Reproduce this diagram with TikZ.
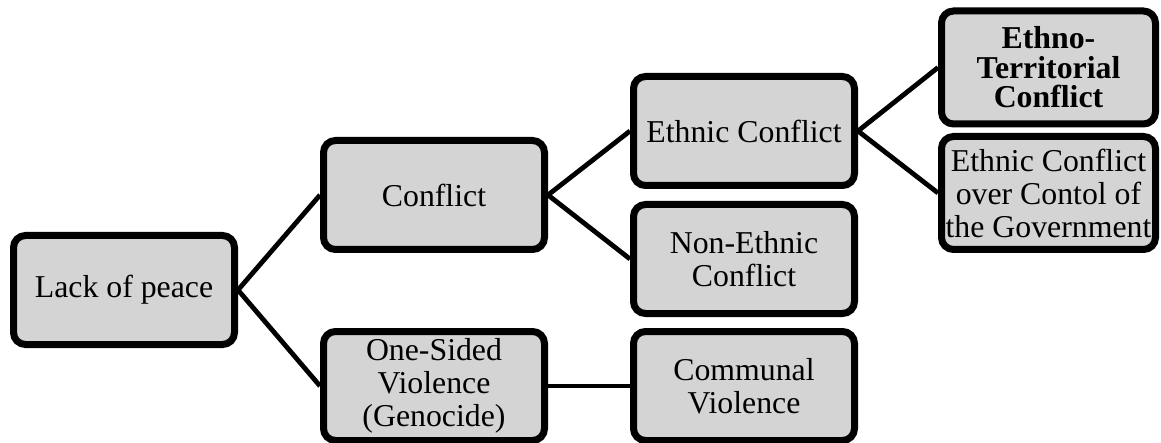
\documentclass[tikz,border=0pt]{standalone}
\usepackage{fontspec}
\setmainfont{Liberation Serif}
\usetikzlibrary{shadows}

\definecolor{boxgray}{HTML}{D4D4D4}
\newcommand{\boxfont}{\fontsize{15.9}{16.5}\selectfont}
\newcommand{\boldboxfont}{\fontsize{15.9}{14.8}\selectfont\bfseries}

\tikzset{
  box/.style={draw=black, line width=3.5pt, rounded corners=6pt, fill=boxgray,
    align=center, inner sep=1pt, minimum width=110.5pt, minimum height=54.5pt,
    font=\boxfont,
    drop shadow={shadow xshift=1pt, shadow yshift=-1.5pt, opacity=0.3}},
  widebox/.style={box, minimum width=107pt, minimum height=56.5pt},
  boldbox/.style={widebox, font=\boldboxfont},
  link/.style={line width=2.4pt, black}
}

\begin{document}
\begin{tikzpicture}[x=0.5pt, y=-0.5pt]
  \useasboundingbox (0,0) rectangle (1161,443);

  % First column
  \node[box] (lack) at (124,290) {Lack of peace};

  % Second column
  \node[box] (conflict) at (434,195) {Conflict};
  \node[box] (onesided) at (434,386) {One-Sided\\Violence\\(Genocide)};

  % Third column
  \node[box] (ethnic) at (744,131) {Ethnic Conflict};
  \node[box] (nonethnic) at (744,259) {Non-Ethnic\\Conflict};
  \node[box] (communal) at (744,386) {Communal\\Violence};

  % Fourth column
  \node[boldbox] (territorial) at (1048.5,67.5) {Ethno-\\Territorial\\Conflict};
  \node[widebox] (government) at (1048.5,193) {Ethnic Conflict\\over Contol of\\the Government};

  % Links between the levels
  \draw[link] (lack.east) -- (conflict.west);
  \draw[link] (lack.east) -- (onesided.west);
  \draw[link] (conflict.east) -- (ethnic.west);
  \draw[link] (conflict.east) -- (nonethnic.west);
  \draw[link] (onesided.east) -- (communal.west);
  \draw[link] (ethnic.east) -- (territorial.west);
  \draw[link] (ethnic.east) -- (government.west);

\end{tikzpicture}
\end{document}
